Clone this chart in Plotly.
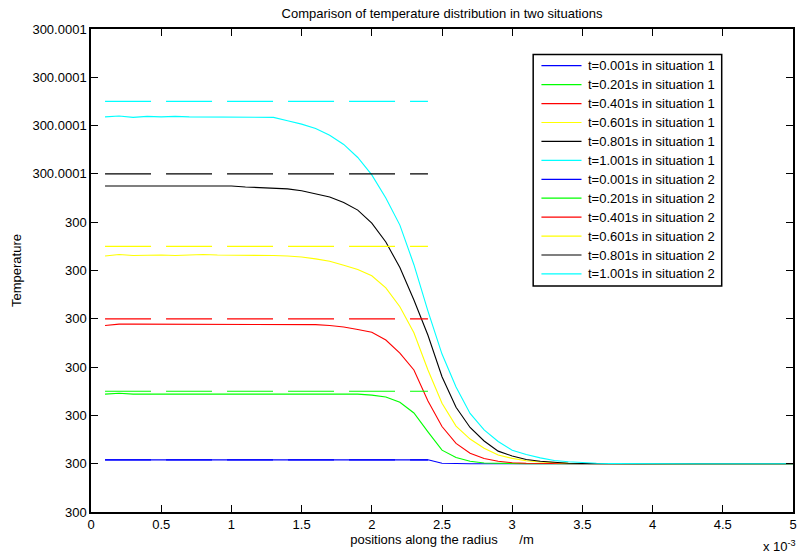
import plotly.graph_objects as go

# Radial positions of the computed nodes, in mm
radius_mm = [0.1, 0.2, 0.3, 0.4, 0.5, 0.6, 0.7, 0.8, 0.9, 1.0,
             1.1, 1.2, 1.3, 1.4, 1.5, 1.6, 1.7, 1.8, 1.9, 2.0,
             2.1, 2.2, 2.3, 2.4, 2.5, 2.6, 2.7, 2.8, 2.9, 3.0,
             3.1, 3.2, 3.3, 3.4, 3.5, 3.6, 3.7, 3.8, 3.9, 4.0,
             4.1, 4.2, 4.3, 4.4, 4.5, 4.6, 4.7, 4.8, 4.9, 5.0]

# Situation 1: temperature rise above 300 K, in units of 1e-5 K
rise_t0001_s1 = [0.08, 0.08, 0.08, 0.08, 0.08, 0.08, 0.08, 0.08, 0.08, 0.08,
                 0.08, 0.08, 0.08, 0.08, 0.08, 0.08, 0.08, 0.08, 0.08, 0.08,
                 0.08, 0.08, 0.08, 0.08, 0.01, 0, 0, 0, 0, 0,
                 0, 0, 0, 0, 0, 0, 0, 0, 0, 0,
                 0, 0, 0, 0, 0, 0, 0, 0, 0, 0]
rise_t0201_s1 = [1.44, 1.46, 1.44, 1.44, 1.44, 1.44, 1.44, 1.44, 1.44, 1.44,
                 1.44, 1.44, 1.44, 1.44, 1.44, 1.44, 1.44, 1.44, 1.44, 1.42,
                 1.38, 1.27, 1.05, 0.66, 0.28, 0.13, 0.05, 0.015, 0.005, 0,
                 0, 0, 0, 0, 0, 0, 0, 0, 0, 0,
                 0, 0, 0, 0, 0, 0, 0, 0, 0, 0]
rise_t0401_s1 = [2.86, 2.89, 2.89, 2.89, 2.89, 2.89, 2.89, 2.89, 2.89, 2.89,
                 2.89, 2.89, 2.89, 2.89, 2.89, 2.88, 2.86, 2.83, 2.78, 2.72,
                 2.56, 2.29, 1.94, 1.30, 0.77, 0.42, 0.215, 0.108, 0.05, 0.02,
                 0.008, 0.003, 0, 0, 0, 0, 0, 0, 0, 0,
                 0, 0, 0, 0, 0, 0, 0, 0, 0, 0]
rise_t0601_s1 = [4.30, 4.33, 4.31, 4.32, 4.32, 4.31, 4.32, 4.33, 4.32, 4.32,
                 4.32, 4.32, 4.31, 4.30, 4.28, 4.24, 4.19, 4.11, 4.02, 3.89,
                 3.64, 3.25, 2.71, 1.94, 1.25, 0.78, 0.51, 0.32, 0.18, 0.11,
                 0.062, 0.035, 0.018, 0.008, 0.003, 0, 0, 0, 0, 0,
                 0, 0, 0, 0, 0, 0, 0, 0, 0, 0]
rise_t0801_s1 = [5.75, 5.75, 5.75, 5.75, 5.75, 5.75, 5.75, 5.75, 5.75, 5.75,
                 5.73, 5.72, 5.71, 5.69, 5.65, 5.59, 5.52, 5.41, 5.25, 4.98,
                 4.59, 4.06, 3.39, 2.66, 1.80, 1.17, 0.75, 0.47, 0.26, 0.16,
                 0.087, 0.05, 0.025, 0.01, 0.004, 0, 0, 0, 0, 0,
                 0, 0, 0, 0, 0, 0, 0, 0, 0, 0]
rise_t1001_s1 = [7.18, 7.20, 7.17, 7.19, 7.18, 7.19, 7.18, 7.18, 7.18, 7.18,
                 7.18, 7.18, 7.17, 7.10, 7.03, 6.94, 6.80, 6.61, 6.34, 5.98,
                 5.50, 4.94, 4.12, 3.16, 2.27, 1.59, 1.04, 0.70, 0.46, 0.28,
                 0.19, 0.12, 0.066, 0.04, 0.02, 0.008, 0.003, 0, 0, 0,
                 0, 0, 0, 0, 0, 0, 0, 0, 0, 0]

# Situation 2: uniform rise over the heated zone (1e-5 K), zone limits in mm
zone_mm = [0.1, 2.4]
rise_s2 = [0.08, 1.5, 3.0, 4.5, 6.0, 7.5]

times = ["0.001", "0.201", "0.401", "0.601", "0.801", "1.001"]
colors = ["#0000ff", "#00ff00", "#ff0000", "#ffff00", "#000000", "#00ffff"]

# Axis ticks
x_ticks_mm = [0, 0.5, 1, 1.5, 2, 2.5, 3, 3.5, 4, 4.5, 5]
x_tick_labels = ["0", "0.5", "1", "1.5", "2", "2.5", "3", "3.5", "4", "4.5", "5"]
y_ticks_rise = [-1, 0, 1, 2, 3, 4, 5, 6, 7, 8, 9]
y_tick_labels = ["300", "300", "300", "300", "300", "300", "300",
                 "300.0001", "300.0001", "300.0001", "300.0001"]

T0 = 300.0
UNIT = 1e-5

W, H = 798, 553
ML, MR, MT, MB = 91, 1, 29, 41
PW, PH = W - ML - MR, H - MT - MB
FONT = "Liberation Sans, Arial, Helvetica, sans-serif"


def fx(px):
    return (px - ML) / PW


def fy(py):
    return (H - MB - py) / PH


fig = go.Figure()

s1_series = [rise_t0001_s1, rise_t0201_s1, rise_t0401_s1,
             rise_t0601_s1, rise_t0801_s1, rise_t1001_s1]
x_m = [r * 1e-3 for r in radius_mm]
names = []
for t, col, rise in zip(times, colors, s1_series):
    name = f"t={t}s in situation 1"
    names.append((name, col))
    fig.add_trace(go.Scatter(x=x_m, y=[T0 + v * UNIT for v in rise], mode="lines",
                             line=dict(color=col, width=1.1), name=name,
                             showlegend=False))

zone_m = [r * 1e-3 for r in zone_mm]
for t, col, lvl in zip(times, colors, rise_s2):
    name = f"t={t}s in situation 2"
    names.append((name, col))
    fig.add_trace(go.Scatter(x=zone_m, y=[T0 + lvl * UNIT] * len(zone_m), mode="lines",
                             line=dict(color=col, width=1.2, dash="46px,15px"),
                             name=name, showlegend=False))

# Boxed legend in the upper right of the axes
shapes = [dict(type="rect", xref="paper", yref="paper",
               x0=fx(535.7), x1=fx(725.3), y0=fy(54.5), y1=fy(286),
               line=dict(color="black", width=1.5), fillcolor="white", layer="above")]
annotations = []
row0, dy = 65.7, 18.93
for i, (name, col) in enumerate(names):
    yc = row0 + i * dy
    shapes.append(dict(type="line", xref="paper", yref="paper",
                       x0=fx(544), x1=fx(584.3), y0=fy(yc), y1=fy(yc),
                       line=dict(color=col, width=1.2), layer="above"))
    annotations.append(dict(text=name, xref="paper", yref="paper",
                            x=fx(588.7), y=fy(yc), xanchor="left", yanchor="middle",
                            showarrow=False, font=dict(size=13, color="black", family=FONT)))

# Exponent of the x axis
annotations.append(dict(text="x 10<sup>-3</sup>", xref="paper", yref="paper",
                        x=fx(765), y=fy(546), xanchor="left", yanchor="middle",
                        showarrow=False, font=dict(size=13, color="black", family=FONT)))

fig.update_layout(
    width=W, height=H,
    margin=dict(l=ML, r=MR, t=MT, b=MB, pad=0),
    paper_bgcolor="white", plot_bgcolor="white",
    font=dict(family=FONT, size=13, color="black"),
    title=dict(text="Comparison of temperature distribution in two situations",
               x=0.5, xref="paper", xanchor="center",
               y=1 - 13 / H, yref="container", yanchor="middle",
               font=dict(size=13, color="black", family=FONT)),
    shapes=shapes, annotations=annotations,
    showlegend=False,
)

fig.update_xaxes(
    range=[0, 5e-3],
    tickvals=[v * 1e-3 for v in x_ticks_mm], ticktext=x_tick_labels,
    ticks="inside", ticklen=7, tickcolor="black", tickwidth=1,
    showline=True, linecolor="black", linewidth=1.5, mirror="allticks",
    showgrid=False, zeroline=False, ticklabeloverflow="allow",
    tickfont=dict(size=13, color="black", family=FONT),
    title=dict(text="positions along the radius" + "\u00a0" * 6 + "/m",
               standoff=4, font=dict(size=13, color="black", family=FONT)),
)
fig.update_yaxes(
    range=[T0 + y_ticks_rise[0] * UNIT, T0 + y_ticks_rise[-1] * UNIT],
    tickvals=[T0 + k * UNIT for k in y_ticks_rise], ticktext=y_tick_labels,
    ticks="inside", ticklen=7, tickcolor="black", tickwidth=1,
    showline=True, linecolor="black", linewidth=1.5, mirror="allticks",
    showgrid=False, zeroline=False,
    tickfont=dict(size=13, color="black", family=FONT),
    title=dict(text="Temperature", standoff=8,
               font=dict(size=13, color="black", family=FONT)),
)

fig.write_html("out.html")
